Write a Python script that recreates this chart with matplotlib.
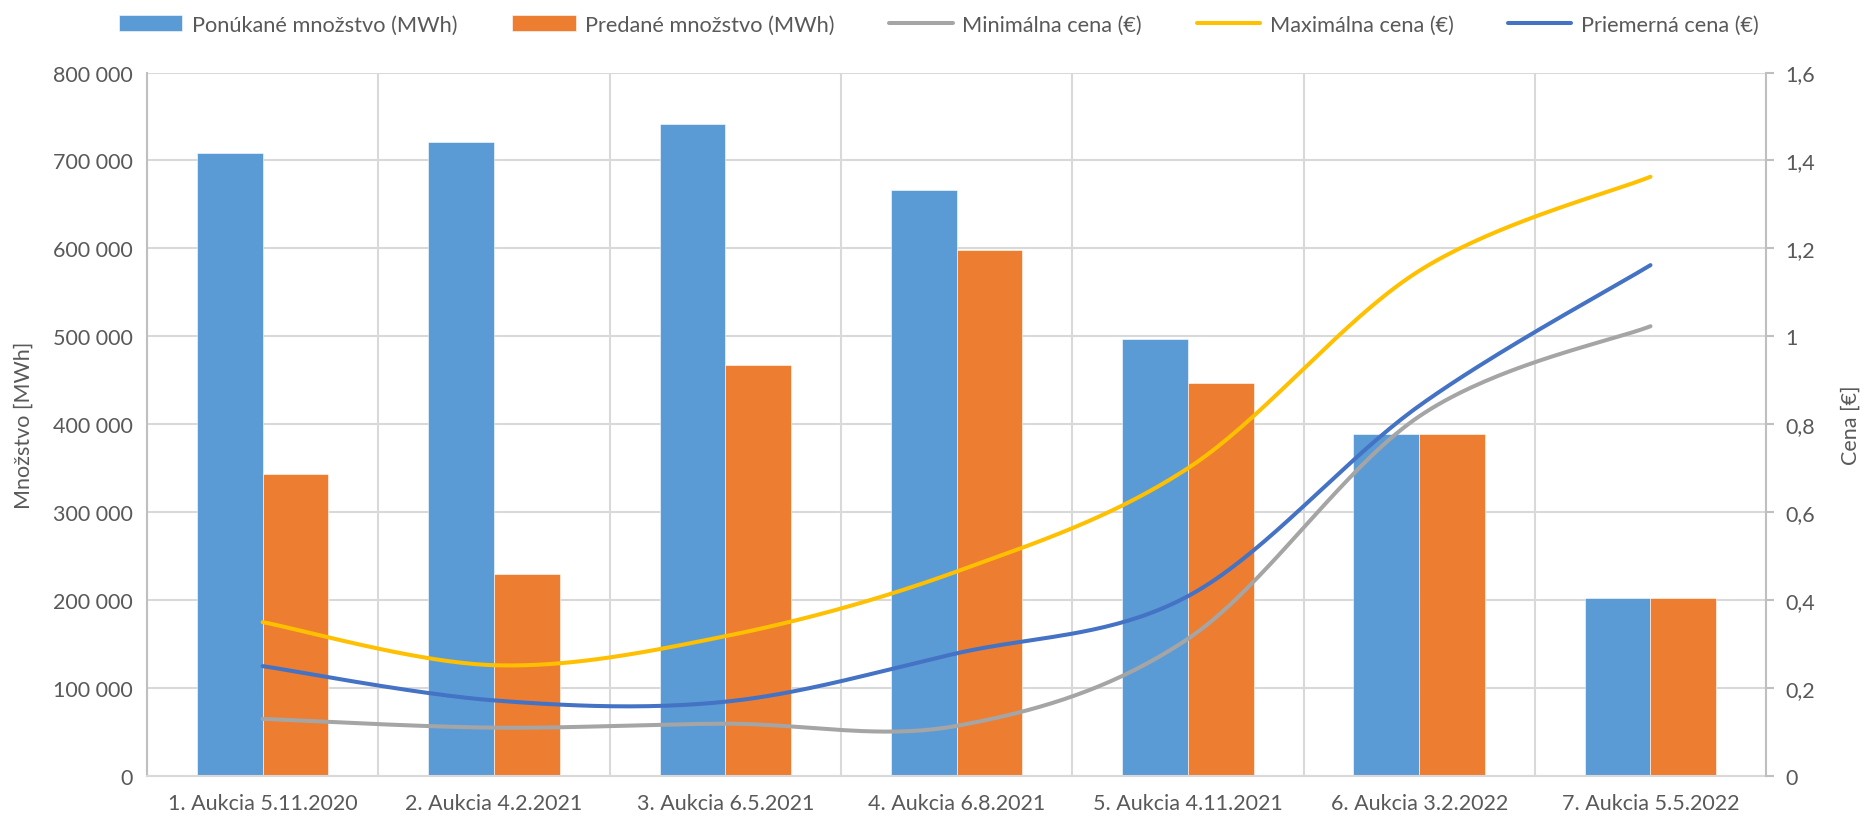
import numpy as np
import matplotlib
matplotlib.use("Agg")
import matplotlib.pyplot as plt
from matplotlib.ticker import FuncFormatter, MultipleLocator

plt.rcParams['font.family'] = ['Lato', 'DejaVu Sans']

auctions = ["1. Aukcia 5.11.2020", "2. Aukcia 4.2.2021", "3. Aukcia 6.5.2021",
            "4. Aukcia 6.8.2021", "5. Aukcia 4.11.2021", "6. Aukcia 3.2.2022",
            "7. Aukcia 5.5.2022"]
offered = [708500, 721000, 741500, 666000, 497500, 388500, 202500]
sold = [343000, 229500, 467500, 598500, 447500, 388500, 202500]
price_min = [0.130, 0.110, 0.119, 0.114, 0.312, 0.818, 1.023]
price_max = [0.350, 0.252, 0.318, 0.465, 0.700, 1.149, 1.363]
price_avg = [0.250, 0.172, 0.169, 0.279, 0.409, 0.842, 1.162]

TEXT = "#595959"
GRID = "#D9D9D9"


def smooth(xs, ys, n=40):
    # Excel-like smoothed line: cubic Bezier through the points
    pts = np.column_stack([xs, ys]).astype(float)
    out = []
    for i in range(len(pts) - 1):
        p0 = pts[max(i - 1, 0)]
        p1 = pts[i]
        p2 = pts[i + 1]
        p3 = pts[min(i + 2, len(pts) - 1)]
        c1 = p1 + (p2 - p0) / 6
        c2 = p2 - (p3 - p1) / 6
        t = np.linspace(0, 1, n)[:, None]
        seg = ((1 - t) ** 3) * p1 + 3 * ((1 - t) ** 2) * t * c1 \
            + 3 * (1 - t) * t ** 2 * c2 + t ** 3 * p2
        out.append(seg if i == 0 else seg[1:])
    return np.vstack(out)


fig = plt.figure(figsize=(18.65, 8.29), dpi=100)
ax = fig.add_axes([0.0788, 0.0627, 0.947 - 0.0788, 0.9113 - 0.0627])

x = np.arange(len(auctions))
w = 0.284
b1 = ax.bar(x - w / 2, offered, w, color="#5B9BD5", edgecolor="white", linewidth=0.4,
            label="Ponúkané množstvo (MWh)", zorder=2)
b2 = ax.bar(x + w / 2, sold, w, color="#ED7D31", edgecolor="white", linewidth=0.4,
            label="Predané množstvo (MWh)", zorder=2)

ax.set_xlim(-0.5, len(auctions) - 0.5)
ax.set_ylim(0, 800000)
ax.yaxis.set_major_locator(MultipleLocator(100000))
ax.yaxis.set_major_formatter(FuncFormatter(lambda v, p: f"{int(v):,}".replace(",", " ")))
ax.set_xticks(x)
ax.set_xticklabels(auctions)
ax.set_xticks(np.arange(-0.5, len(auctions)), minor=True)
ax.grid(axis="y", which="major", color=GRID, linewidth=1.5)
ax.grid(axis="x", which="minor", color=GRID, linewidth=1.5)
ax.set_axisbelow(True)
ax.tick_params(axis="both", which="both", length=0, colors=TEXT, labelsize=15.5)
ax.tick_params(axis="x", pad=12)
ax.tick_params(axis="y", pad=10)
ax.set_ylabel("Množstvo [MWh]", color=TEXT, fontsize=15.5, labelpad=14)
for s in ["top", "right"]:
    ax.spines[s].set_visible(False)
ax.spines["left"].set_color("#BFBFBF")
ax.spines["left"].set_linewidth(1.5)
ax.spines["bottom"].set_color(GRID)
ax.spines["bottom"].set_linewidth(1.5)

ax2 = ax.twinx()
ax2.set_ylim(0, 1.6)
ax2.yaxis.set_major_locator(MultipleLocator(0.2))
ax2.yaxis.set_major_formatter(FuncFormatter(lambda v, p: f"{v:.1f}".rstrip("0").rstrip(".").replace(".", ",")))
ax2.tick_params(axis="y", length=6, width=1.5, color="#BFBFBF", colors=TEXT, labelsize=15.5, pad=8)
ax2.tick_params(axis="y", color="#BFBFBF")
ax2.set_ylabel("Cena [€]", color=TEXT, fontsize=15.5, labelpad=18)
for s in ["top", "left", "bottom"]:
    ax2.spines[s].set_visible(False)
ax2.spines["right"].set_color("#BFBFBF")
ax2.spines["right"].set_linewidth(1.5)

lines = []
for vals, col, lab in [(price_min, "#A5A5A5", "Minimálna cena (€)"),
                       (price_max, "#FFC000", "Maximálna cena (€)"),
                       (price_avg, "#4472C4", "Priemerná cena (€)")]:
    c = smooth(x, vals)
    ln, = ax2.plot(c[:, 0], c[:, 1], color=col, linewidth=2.9, label=lab,
                   solid_capstyle="round", zorder=3)
    lines.append(ln)

fig.legend([b1, b2] + lines, [h.get_label() for h in [b1, b2] + lines],
           loc="upper center", bbox_to_anchor=(0.5035, 1.005), ncol=5, frameon=False,
           fontsize=15.7, labelcolor=TEXT, handlelength=2.9, handleheight=0.75,
           columnspacing=2.5, handletextpad=0.45)

fig.savefig("out.png", dpi=100)
